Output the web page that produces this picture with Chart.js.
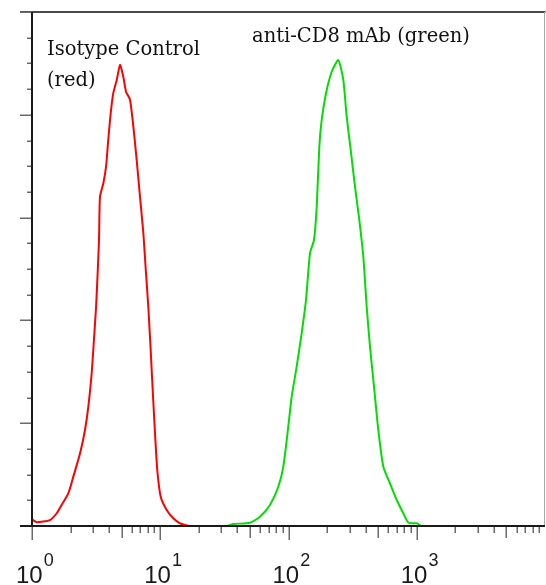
<!DOCTYPE html>
<html>
<head>
<meta charset="utf-8">
<script src="https://cdn.jsdelivr.net/npm/chart.js@4.4.1/dist/chart.umd.min.js"></script>
<style>
  html, body { margin: 0; padding: 0; background: #ffffff; }
  #wrap { position: relative; width: 546px; height: 585px; }
</style>
</head>
<body>
<div id="wrap"><canvas id="c"></canvas></div>
<script>
// ---- data ----
const redX = [1.00, 1.02, 1.09, 1.38, 1.56, 1.70, 1.92, 2.10, 2.37, 2.59, 2.75, 2.92, 3.04, 3.16, 3.25, 3.33, 3.39, 3.60, 3.78, 3.93, 4.11, 4.30, 4.58, 4.86, 5.15, 5.41, 5.81, 6.17, 6.55, 6.95, 7.38, 7.74, 8.07, 8.42, 8.73, 9.10, 9.48, 10.08, 11.23, 12.64, 14.26, 15.60, 17.0, 10000];
const redY = [7.0, 5.8, 3.6, 5.8, 12.4, 20.4, 31.8, 48.0, 70.7, 93.4, 116.1, 148.6, 180.9, 213.3, 246.1, 278.2, 320.3, 333.4, 349.5, 375.5, 401.8, 420.9, 433.9, 448.5, 437.1, 422.5, 414.7, 388.4, 356.0, 320.3, 285.0, 246.1, 213.3, 171.2, 132.3, 90.5, 54.5, 28.5, 15.6, 7.5, 2.6, 1.0, 0, 0];

const greenX = [1, 33.0, 37.1, 50.1, 59.9, 71.7, 83.3, 91.1, 99.6, 105.9, 115.8, 126.7, 136.9, 147.1, 158.0, 166.0, 173.9, 181.5, 196.1, 217.2, 244.5, 267.5, 284.3, 305.5, 330.0, 356.5, 383.1, 407.1, 432.0, 464.2, 501.4, 548.6, 618.5, 697.9, 785.6, 859.5, 999.1, 1100, 10000];
const greenY = [0, 0, 1.9, 3.2, 9.0, 20.4, 38.2, 57.7, 96.6, 125.8, 155.0, 187.5, 219.9, 265.3, 278.2, 310.6, 369.0, 395.0, 420.9, 441.9, 453.3, 433.9, 398.2, 365.8, 330.1, 297.7, 262.0, 213.3, 174.4, 135.5, 93.4, 57.7, 41.5, 25.3, 12.4, 3.2, 2.6, 0, 0];

const xDecades = [1, 10, 100, 1000, 10000];
const xLabelExponents = ['0', '1', '2', '3'];
const yMajorTicks = [0, 100, 200, 300, 400, 500];
const yMinorStep = 25;
const seriesNames = ['Isotype Control', 'anti-CD8 mAb (green)'];

function pts(xs, ys) { return xs.map((x, i) => ({ x: x, y: ys[i] })); }

const framePlugin = {
  id: 'frame',
  afterDraw(chart) {
    const ctx = chart.ctx;
    const xs = chart.scales.x, ys = chart.scales.y;
    const L = xs.getPixelForValue(1), R = xs.getPixelForValue(10000);
    const B = ys.getPixelForValue(0), T = ys.getPixelForValue(500);
    ctx.save();
    // top border
    ctx.strokeStyle = '#4a4a4a'; ctx.lineWidth = 2;
    ctx.beginPath(); ctx.moveTo(L - 12, T); ctx.lineTo(R + 0.5, T); ctx.stroke();
    // right border
    ctx.strokeStyle = '#a8a8a8'; ctx.lineWidth = 1;
    ctx.beginPath(); ctx.moveTo(R - 0.5, T); ctx.lineTo(R - 0.5, B); ctx.stroke();
    // y ticks
    ctx.strokeStyle = '#6a6a6a'; ctx.lineWidth = 1.5;
    for (let v = 0; v <= 500; v += yMinorStep) {
      const y = Math.round(ys.getPixelForValue(v)) + 0.25;
      const major = yMajorTicks.includes(v);
      ctx.beginPath(); ctx.moveTo(L - (major ? 12 : 5), y); ctx.lineTo(L, y); ctx.stroke();
    }
    // x ticks
    for (let d = 0; d < xDecades.length - 1; d++) {
      for (let m = 1; m <= 9; m++) {
        const v = xDecades[d] * m;
        const x = Math.round(xs.getPixelForValue(v)) + 0.25;
        const len = m === 1 ? 14 : (m === 5 ? 12 : 7);
        ctx.beginPath(); ctx.moveTo(x, B); ctx.lineTo(x, B + len); ctx.stroke();
      }
    }
    // axes lines
    ctx.strokeStyle = '#1a1a1a'; ctx.lineWidth = 2;
    ctx.beginPath(); ctx.moveTo(L, T); ctx.lineTo(L, B + 1); ctx.stroke();
    ctx.beginPath(); ctx.moveTo(L - 12, B); ctx.lineTo(R, B); ctx.stroke();
    // x labels 10^n
    ctx.fillStyle = '#1a1a1a';
    ctx.textBaseline = 'alphabetic';
    ctx.textAlign = 'left';
    for (let i = 0; i < xLabelExponents.length; i++) {
      const x = xs.getPixelForValue(xDecades[i]);
      ctx.font = '24px "Liberation Sans", Arial, sans-serif';
      const w = ctx.measureText('10').width;
      const left = x - 16;
      ctx.fillText('10', left, 583);
      ctx.font = '18px "Liberation Sans", Arial, sans-serif';
      ctx.fillText(xLabelExponents[i], left + w + 1, 566);
    }
    // annotations
    ctx.fillStyle = '#111111';
    ctx.font = '19.5px "DejaVu Serif", serif';
    ctx.fillText(seriesNames[0], 47, 55);
    ctx.fillText('(red)', 47, 86);
    ctx.fillText(seriesNames[1], 252, 42);
    ctx.restore();
  }
};

new Chart(document.getElementById('c'), {
  type: 'line',
  data: {
    datasets: [
      { label: 'Isotype Control (red)', data: pts(redX, redY), borderColor: '#ff0000', borderWidth: 2, pointRadius: 0, tension: 0.2, fill: false },
      { label: 'anti-CD8 mAb (green)', data: pts(greenX, greenY), borderColor: '#00e000', borderWidth: 2, pointRadius: 0, tension: 0.2, fill: false }
    ]
  },
  options: {
    responsive: true,
    maintainAspectRatio: false,
    animation: false,
    layout: { padding: { left: 32, right: 1, top: 12, bottom: 59 } },
    plugins: { legend: { display: false }, tooltip: { enabled: false } },
    scales: {
      x: { type: 'logarithmic', min: 1, max: 10000, display: false },
      y: { type: 'linear', min: 0, max: 500, display: false }
    }
  },
  plugins: [framePlugin]
});
</script>
</body>
</html>
